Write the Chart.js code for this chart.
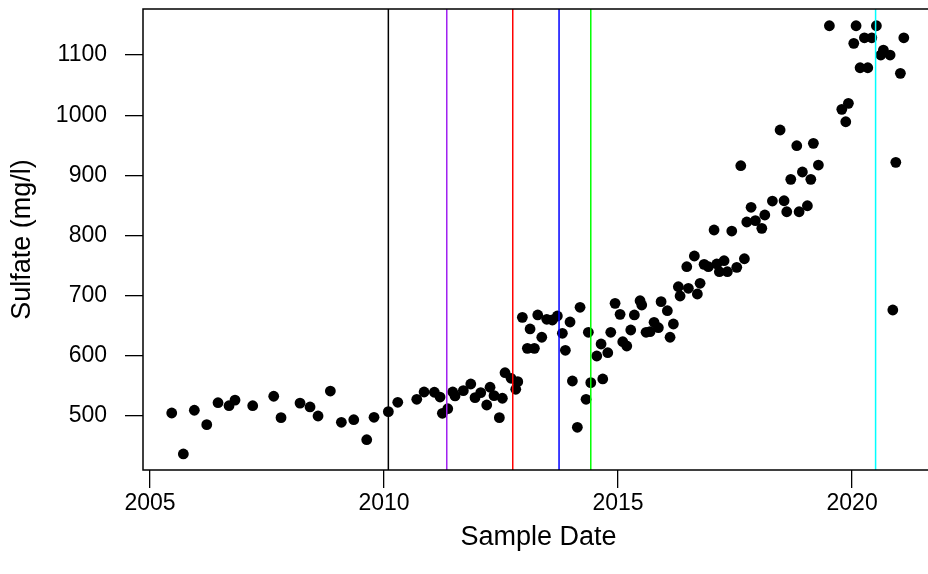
<!DOCTYPE html>
<html><head><meta charset="utf-8">
<script src="https://cdn.jsdelivr.net/npm/chart.js@4/dist/chart.umd.min.js"></script>
<style>
html,body{margin:0;padding:0;background:#fff;overflow:hidden}
#wrap{width:928px;height:574px;overflow:hidden;position:relative;background:#fff}
canvas{display:block}
</style></head>
<body><div id="wrap"><canvas id="c" width="940" height="574" style="width:940px;height:574px"></canvas></div>
<script>
const sampleYears = [
 2005.464,2005.712,2005.947,2006.212,2006.453,2006.688,2006.816,2007.194,2007.643,2007.799,
 2008.205,2008.419,2008.590,2008.853,2009.088,2009.353,2009.630,2009.786,2010.092,2010.293,
 2010.699,2010.855,2011.075,2011.197,2011.246,2011.361,2011.468,2011.517,2011.694,2011.853,
 2011.944,2012.066,2012.194,2012.265,2012.350,2012.464,2012.528,2012.585,2012.714,2012.814,
 2012.857,2012.955,2013.062,2013.120,2013.212,2013.284,2013.370,2013.476,2013.596,2013.703,
 2013.810,2013.874,2013.974,2014.024,2014.130,2014.188,2014.316,2014.365,2014.417,2014.545,
 2014.637,2014.673,2014.780,2014.844,2014.936,2015.043,2015.100,2015.186,2015.271,2015.348,
 2015.470,2015.506,2015.598,2015.684,2015.769,2015.861,2015.919,2016.053,2016.111,2016.182,
 2016.288,2016.325,2016.468,2016.502,2016.630,2016.694,2016.752,2016.838,2016.929,2017.051,
 2017.109,2017.164,2017.265,2017.335,2017.429,2017.536,2017.622,2017.699,2017.750,2017.842,
 2017.934,2018.071,2018.135,2018.297,2018.462,2018.547,2018.604,2018.690,2018.818,2018.868,
 2018.938,2019.045,2019.118,2019.173,2019.280,2019.515,2019.780,2019.865,2019.921,2020.036,
 2020.085,2020.171,2020.263,2020.335,2020.421,2020.519,2020.613,2020.669,2020.812,2020.870,
 2020.934,2021.032,2021.105
];
const sulfate = [
 504.5,436.3,509,485,521.6,516.6,526,516.6,532.3,496.7,
 521,514.5,499.5,541,489,493.3,460,497.3,506.7,522.3,
 527.3,539.4,539,531,504,511.6,539.4,532.8,541.6,552.7,
 530,538.3,517.8,547.3,533.3,496.7,529,571.5,562.2,544,
 556.6,663.7,612.1,644.3,612.1,667.6,630.5,660.4,659.2,665.9,
 637.1,608.8,655.9,557.7,480.7,680.4,527.3,638.8,554.9,599.3,
 619.3,561.1,604.8,638.8,687,668.7,623.1,616,642.6,667.6,
 691.3,684.2,638.8,639.8,655.4,646.4,689.7,674.7,630.5,652.6,
 714.6,699.2,747.9,712,765.7,702.5,720.3,751.9,747.9,809,
 752.4,739.6,757.9,739.6,807.3,746.9,916,761.2,822.3,846.8,
 824.5,811.8,834,857.2,975.4,857.7,839.4,893.3,949.3,839.4,
 905.5,849.4,893.3,953.2,917.1,1148.9,1009.8,989.2,1019.8,1119.6,
 1148.9,1079,1128.9,1079,1128.9,1148.9,1100.2,1108.5,1100.2,675.9,
 921.6,1069.7,1128.9
];
const xTicks = [2005, 2010, 2015, 2020];
const yTicks = [500, 600, 700, 800, 900, 1000, 1100];
const markerYears = [2010.092, 2011.340, 2012.750, 2013.739, 2014.417, 2020.502];
const markerColors = ['#000000', '#A020F0', '#FF0000', '#0000FF', '#00FF00', '#00FFFF'];
const xRange = [2004.85, 2021.75];
const yRange = [409.6, 1176.8];

const FONT = '"Liberation Sans", Arial, Helvetica, sans-serif';

const points = sampleYears.map((x, i) => ({x: x, y: sulfate[i]}));
const markerSets = markerYears.map((x, i) => ({
  data: [{x: x, y: yRange[0]}, {x: x, y: yRange[1]}],
  showLine: true,
  borderColor: markerColors[i],
  borderWidth: 1.5,
  pointRadius: 0,
  fill: false,
  order: 1
}));

const boxPlugin = {
  id: 'box',
  afterDatasetsDraw(chart) {
    const {ctx, chartArea: a} = chart;
    ctx.save();
    ctx.strokeStyle = '#000';
    ctx.lineWidth = 1.5;
    ctx.strokeRect(a.left, a.top, a.right - a.left, a.bottom - a.top);
    ctx.restore();
  }
};

function noPad(s) { s.paddingTop = 0; s.paddingBottom = 0; s.paddingLeft = 0; s.paddingRight = 0; }

new Chart(document.getElementById('c').getContext('2d'), {
  type: 'scatter',
  data: {
    datasets: [{
      data: points,
      pointRadius: 5.4,
      pointBackgroundColor: '#000',
      pointBorderWidth: 0,
      order: 2
    }].concat(markerSets)
  },
  options: {
    responsive: false,
    animation: false,
    devicePixelRatio: 1,
    layout: {padding: {left: 0, top: 9, right: 6, bottom: 0}},
    plugins: {legend: {display: false}, tooltip: {enabled: false}},
    scales: {
      x: {
        type: 'linear', min: xRange[0], max: xRange[1],
        afterBuildTicks: s => { s.ticks = xTicks.map(v => ({value: v})); },
        afterFit: s => { s.height = 104; noPad(s); },
        grid: {drawOnChartArea: false, drawTicks: true, tickLength: 18, color: '#000', lineWidth: 1.3},
        border: {display: false},
        ticks: {color: '#000', font: {family: FONT, size: 23}, padding: 2, maxRotation: 0, autoSkip: false,
                callback: v => String(v)},
        title: {display: true, text: 'Sample Date', color: '#000', font: {family: FONT, size: 27},
                padding: {top: 0, bottom: 20}}
      },
      y: {
        type: 'linear', min: yRange[0], max: yRange[1],
        afterBuildTicks: s => { s.ticks = yTicks.map(v => ({value: v})); },
        afterFit: s => { s.width = 143; noPad(s); },
        grid: {drawOnChartArea: false, drawTicks: true, tickLength: 18, color: '#000', lineWidth: 1.3},
        border: {display: false},
        ticks: {color: '#000', font: {family: FONT, size: 23}, padding: 18, autoSkip: false,
                callback: v => String(v)},
        title: {display: true, text: 'Sulfate (mg/l)', color: '#000', font: {family: FONT, size: 27},
                padding: {top: 6, bottom: 0}}
      }
    }
  },
  plugins: [boxPlugin]
});
</script>
</body></html>
